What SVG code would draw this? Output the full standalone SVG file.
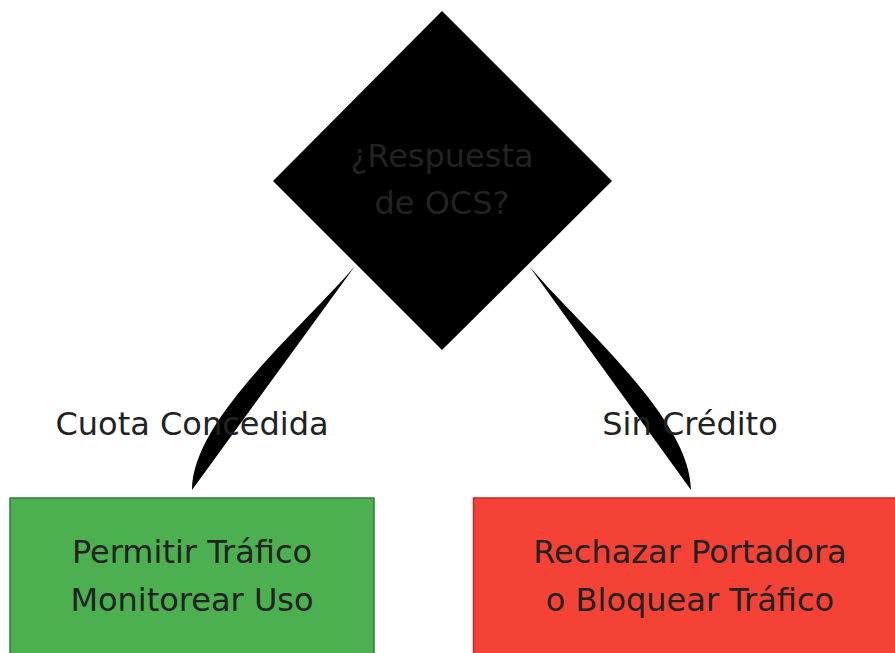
<svg xmlns="http://www.w3.org/2000/svg" width="895" height="653" viewBox="0 0 895 653">
<style>
text{font-family:"DejaVu Sans","Liberation Sans",sans-serif;font-size:32px;fill:#222;text-anchor:middle}
.edge{fill:#000;stroke:none}
</style>
<rect width="895" height="653" fill="#fff"/>
<g id="connectors">
<path class="edge" d="M355,266 C300,330 192,420 192,490 Z"/>
<path class="edge" d="M529,266 C584,330 691,420 691,490 Z"/>
</g>
<g id="decision">
<polygon points="442,11 612,181 442,350 273,181" fill="#000"/>
<text x="442" y="167">¿Respuesta</text>
<text x="442" y="214">de OCS?</text>
</g>
<g id="label-cuota"><text x="192" y="435">Cuota Concedida</text></g>
<g id="label-sin"><text x="690" y="435">Sin Crédito</text></g>
<g id="allow">
<rect x="10" y="498" width="364" height="170" fill="#4caf50" stroke="#2e7d32" stroke-width="1.5"/>
<text x="192" y="563">Permitir Tráfico</text>
<text x="192" y="611">Monitorear Uso</text>
</g>
<g id="reject">
<rect x="473.5" y="498" width="440" height="170" fill="#f44336" stroke="#c62828" stroke-width="1.5"/>
<text x="690" y="563">Rechazar Portadora</text>
<text x="690" y="611">o Bloquear Tráfico</text>
</g>
</svg>
